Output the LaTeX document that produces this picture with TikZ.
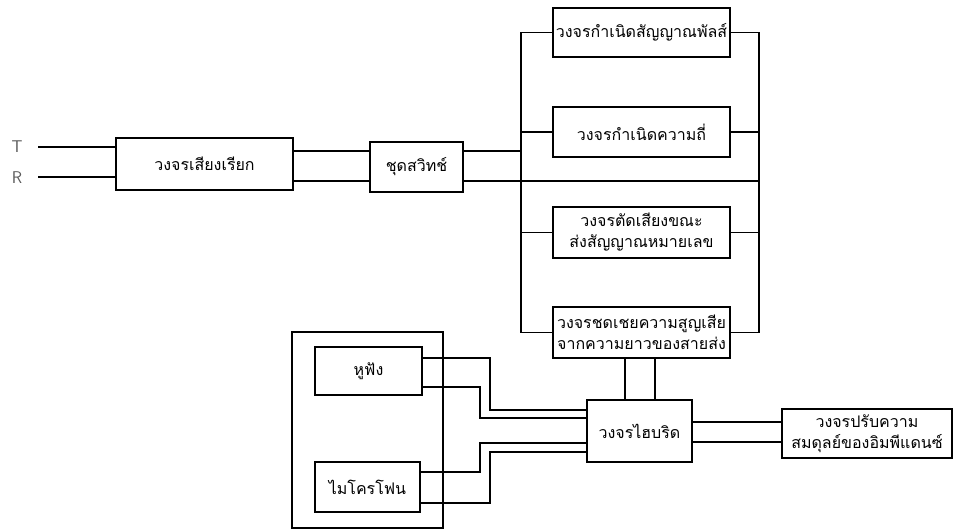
\documentclass[tikz,border=0pt]{standalone}
\usepackage{fontspec}
\newfontfamily\thaifont[Script=Thai]{Loma}
\usetikzlibrary{positioning}
\tikzset{
	blk/.style={rectangle, draw=black, line width=1.8pt, align=center, inner sep=0.5pt, font=\thaifont\fontsize{16}{21}\selectfont},
	wire/.style={line width=1.7pt, draw=black},
	tr/.style={font=\sffamily\fontsize{17}{19}\selectfont, text=black!65},
}

\begin{document}
\begin{tikzpicture}[x=1pt, y=-1pt]
	\useasboundingbox (0,0) rectangle (959,532);
	% line input
	\node[tr] (tlbl) at (17,147) {T};
	\node[tr] (rlbl) at (17,178) {R};
	\coordinate (tin) at (38,147);
	\coordinate (rin) at (38,177);
	\node[blk, minimum width=177pt, minimum height=52pt] (ring) at (204.5,164) {วงจรเสียงเรียก};
	\node[blk, minimum width=93pt, minimum height=50pt] (sw) at (416.5,167) {ชุดสวิทช์};
	% dialling and tone column
	\node[blk, minimum width=177pt, minimum height=49pt] (pulse) at (641.5,32.5) {วงจรกำเนิดสัญญาณพัลส์};
	\node[blk, minimum width=177pt, minimum height=50pt] (freq) at (641.5,132) {วงจรกำเนิดความถี่};
	\node[blk, minimum width=177pt, minimum height=51pt] (mute) at (641.5,232.5) {วงจรตัดเสียงขณะ\\ส่งสัญญาณหมายเลข};
	\node[blk, minimum width=177pt, minimum height=51pt] (comp) at (641.5,332.5) {วงจรชดเชยความสูญเสีย\\จากความยาวของสายส่ง};
	% speech part
	\node[blk, minimum width=105pt, minimum height=62pt] (hyb) at (639.5,431) {วงจรไฮบริด};
	\node[blk, minimum width=170pt, minimum height=49pt] (imp) at (867,433.5) {วงจรปรับความ\\สมดุลย์ของอิมพีแดนซ์};
	\node[blk, minimum width=151pt, minimum height=196pt] (hset) at (367.5,430) {};
	\node[blk, minimum width=107pt, minimum height=48pt] (ear) at (368.5,371) {หูฟัง};
	\node[blk, minimum width=105pt, minimum height=50pt] (mic) at (367.5,487) {ไมโครโฟน};
	% levels
	\coordinate (ya) at (0,151);
	\coordinate (yb) at (0,181);
	\coordinate (lb) at (521,0);
	\coordinate (rb) at (759,0);
	\coordinate (xa) at (625,0);
	\coordinate (xb) at (655,0);
	\coordinate (xi) at (480,0);
	\coordinate (xo) at (490,0);
	\coordinate (e1) at (0,358);
	\coordinate (e2) at (0,387);
	\coordinate (m1) at (0,472);
	\coordinate (m2) at (0,503);
	\coordinate (h1) at (0,410);
	\coordinate (h2) at (0,418);
	\coordinate (h3) at (0,443);
	\coordinate (h4) at (0,452);
	\coordinate (i1) at (0,422);
	\coordinate (i2) at (0,442);
	% wires
	\draw[wire] (tin) -- (tin -| ring.west);
	\draw[wire] (rin) -- (rin -| ring.west);
	\draw[wire] (ring.east |- ya) -- (sw.west |- ya);
	\draw[wire] (ring.east |- yb) -- (sw.west |- yb);
	\draw[wire] (sw.east |- ya) -- (lb |- ya);
	\draw[wire] (sw.east |- yb) -- (rb |- yb);
	\draw[wire] (pulse.west) -| (lb |- comp.west) -- (comp.west);
	\draw[wire] (pulse.east) -| (rb |- comp.east) -- (comp.east);
	\draw[wire] (freq.west) -- (lb |- freq.west);
	\draw[wire] (freq.east) -- (rb |- freq.east);
	\draw[wire] (mute.west) -- (lb |- mute.west);
	\draw[wire] (mute.east) -- (rb |- mute.east);
	\draw[wire] (xa |- comp.south) -- (xa |- hyb.north);
	\draw[wire] (xb |- comp.south) -- (xb |- hyb.north);
	\draw[wire] (hyb.east |- i1) -- (imp.west |- i1);
	\draw[wire] (hyb.east |- i2) -- (imp.west |- i2);
	\draw[wire] (ear.east |- e1) -| (xo |- h1) -- (hyb.west |- h1);
	\draw[wire] (ear.east |- e2) -| (xi |- h2) -- (hyb.west |- h2);
	\draw[wire] (mic.east |- m1) -| (xi |- h3) -- (hyb.west |- h3);
	\draw[wire] (mic.east |- m2) -| (xo |- h4) -- (hyb.west |- h4);
\end{tikzpicture}
\end{document}
